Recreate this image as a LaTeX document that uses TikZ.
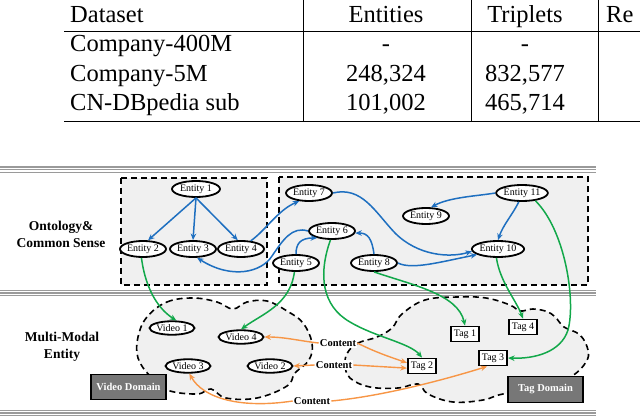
\documentclass[tikz,border=0pt]{standalone}
\usepackage{fontspec}
\setmainfont{Liberation Serif}
\usetikzlibrary{shapes.geometric,arrows.meta}
\definecolor{eblue}{HTML}{1E6FC0}
\definecolor{egreen}{HTML}{12A84A}
\definecolor{eorange}{HTML}{F79646}
\definecolor{lightbg}{HTML}{F0F0F0}
\definecolor{domgray}{HTML}{777777}
\definecolor{bandgray}{HTML}{9A9A9A}
\tikzset{
  tabtxt/.style={inner sep=0pt,font=\fontsize{24.5}{28}\selectfont},
  ent/.style={ellipse,draw=black,line width=1.8pt,fill=white,inner sep=0pt,minimum width=46pt,minimum height=16pt,font=\fontsize{10}{11}\selectfont},
  vid/.style={ellipse,draw=black,line width=1.8pt,fill=white,inner sep=0pt,minimum width=45pt,minimum height=13.5pt,font=\fontsize{10}{11}\selectfont},
  tagbox/.style={rectangle,draw=black,line width=1.8pt,fill=white,inner xsep=3pt,inner ysep=0pt,minimum height=15pt,font=\fontsize{10}{11}\selectfont},
  dombox/.style={rectangle,draw=black,line width=1.2pt,fill=domgray,text=white,minimum width=75pt,minimum height=25.5pt,inner sep=0pt,font=\bfseries\fontsize{10.5}{12}\selectfont},
  sidelab/.style={align=center,inner sep=0pt,font=\bfseries\fontsize{13.5}{17.5}\selectfont},
  contlab/.style={inner sep=1pt,fill=white,font=\bfseries\fontsize{10.5}{12}\selectfont},
  dbox/.style={draw=black,line width=1.6pt,dash pattern=on 6pt off 4pt,fill=lightbg},
  cloudline/.style={draw=black,line width=1.6pt,dash pattern=on 6pt off 4pt,fill=lightbg},
  band/.style={draw=bandgray,line width=1.3pt},
  tip/.style={-{Stealth[length=6.5pt,width=5.5pt]}},
  bl/.style={tip,draw=eblue,line width=1.5pt},
  gr/.style={tip,draw=egreen,line width=1.5pt},
  og/.style={tip,draw=eorange,line width=1.4pt}
}
\begin{document}
\begin{tikzpicture}[x=1pt,y=-1pt]
\useasboundingbox (0,0) rectangle (640,417);

% ---------------- table ----------------
\draw[line width=0.9pt] (64,31.5) -- (640,31.5);
\draw[line width=0.9pt] (64,121) -- (640,121);
\foreach \xx in {303,471,598} \draw[line width=0.8pt] (\xx,0) -- (\xx,121);
\node[tabtxt,anchor=base west] (h1) at (70,23) {Dataset};
\node[tabtxt,anchor=base] (h2) at (386,23) {Entities};
\node[tabtxt,anchor=base] (h3) at (525,23) {Triplets};
\node[tabtxt,anchor=base west] (h4) at (606,23) {Re};
\node[tabtxt,anchor=base west] (r1a) at (70,52) {Company-400M};
\node[tabtxt,anchor=base] (r1b) at (386,52) {-};
\node[tabtxt,anchor=base] (r1c) at (525,52) {-};
\node[tabtxt,anchor=base west] (r2a) at (70,81.5) {Company-5M};
\node[tabtxt,anchor=base] (r2b) at (386,81.5) {248,324};
\node[tabtxt,anchor=base] (r2c) at (525,81.5) {832,577};
\node[tabtxt,anchor=base west] (r3a) at (70,111) {CN-DBpedia sub};
\node[tabtxt,anchor=base] (r3b) at (386,111) {101,002};
\node[tabtxt,anchor=base] (r3c) at (525,111) {465,714};

% ---------------- bands ----------------
\foreach \yy in {167,169.6,172.2,290.5,293.1,295.7,410.3,412.9,415.5}
  \draw[band] (0,\yy) -- (596,\yy);

% ---------------- dashed boxes ----------------
\draw[dbox] (121,178) rectangle (267,285);
\draw[dbox] (279,177) rectangle (588,285);

% ---------------- clouds ----------------
\draw[cloudline] plot[smooth cycle,tension=0.65] coordinates {
 (147,317) (167,302) (193,298) (217,302) (233,309) (247,302) (267,301) (287,311)
 (303,323) (312,343) (309,360) (295,373) (287,386) (257,398) (226,398) (211,389)
 (197,394) (167,390) (150,376) (138,358) (138,337)};
\draw[cloudline] plot[smooth cycle,tension=0.65] coordinates {
 (348,352) (358,343) (377,337) (392,328) (402,314) (425,300) (457,297) (486,298)
 (510,305) (520,311) (533,309) (548,312) (557,319) (564,327) (580,335) (588,350)
 (586,362) (572,376) (545,388) (503,394) (483,400) (453,402) (428,394) (418,384)
 (398,388) (370,387) (350,378) (345,364)};

% ---------------- domain boxes ----------------
\node[dombox] (vd) at (128.5,387) {Video Domain};
\node[dombox] (td) at (545.5,389.5) {Tag Domain};

% ---------------- side labels ----------------
\node[sidelab] (ont) at (61,234.5) {Ontology\&\\Common Sense};
\node[sidelab] (mme) at (62,347) {Multi-Modal\\Entity};

% ---------------- entity nodes ----------------
\node[ent,minimum width=48pt] (e1) at (196,189) {Entity 1};
\node[ent] (e2) at (143,249) {Entity 2};
\node[ent] (e3) at (193,249) {Entity 3};
\node[ent] (e4) at (241,249) {Entity 4};
\node[ent] (e5) at (296,263) {Entity 5};
\node[ent] (e6) at (332,231) {Entity 6};
\node[ent] (e7) at (309,193) {Entity 7};
\node[ent] (e8) at (374,263) {Entity 8};
\node[ent] (e9) at (426,216) {Entity 9};
\node[ent] (e10) at (498,249) {Entity 10};
\node[ent] (e11) at (522,193) {Entity 11};

% ---------------- video / tag nodes ----------------
\node[vid] (v1) at (172,328) {Video 1};
\node[vid] (v4) at (241,337) {Video 4};
\node[vid] (v3) at (188,366) {Video 3};
\node[vid] (v2) at (270,366) {Video 2};
\node[tagbox] (t1) at (465,334) {Tag 1};
\node[tagbox] (t4) at (523,327) {Tag 4};
\node[tagbox] (t3) at (493,358) {Tag 3};
\node[tagbox] (t2) at (422,366) {Tag 2};

\node[contlab] (c1) at (338,343) {Content};
\node[contlab] (c2) at (334,365) {Content};
\node[contlab] (c3) at (312,401) {Content};

% ---------------- blue edges ----------------
\draw[bl] (e1.south) -- (e2.60);
\draw[bl] (e1.south) -- (e3.north);
\draw[bl] (e1.south) -- (e4.110);
\draw[bl] (e4.40) .. controls (266,230) and (278,210) .. (e7.-140);
\draw[bl] (e6.west) .. controls (292,226) and (283,240) .. (272,256)
          .. controls (262,272) and (232,280) .. (e3.-65);
\draw[bl] (e5.north) .. controls (296,244) and (300,238) .. (e6.-155);
\draw[bl] (e8.north) .. controls (372,239) and (368,233) .. (e6.-5);
\draw[bl] (e7.east) .. controls (362,186) and (375,212) .. (395,233)
          .. controls (418,256) and (450,258) .. (e10.-175);
\draw[bl] (e8.east) .. controls (412,270) and (440,262) .. (e10.-165);
\draw[bl] (e11.west) .. controls (478,196) and (450,197) .. (e9.60);
\draw[bl] (e11.-110) .. controls (513,214) and (503,225) .. (e10.north);

% ---------------- green edges ----------------
\draw[gr] (e2.-100) .. controls (146,292) and (160,310) .. (v1.60);
\draw[gr] (e5.-100) .. controls (290,305) and (262,314) .. (v4.north);
\draw[gr] (e6.-100) .. controls (318,275) and (322,306) .. (350,322)
          .. controls (375,337) and (410,343) .. (t2.north);
\draw[gr] (e8.south) .. controls (412,285) and (458,294) .. (t1.north);
\draw[gr] (e10.-100) .. controls (500,282) and (516,300) .. (t4.north);
\draw[gr] (e11.-30) .. controls (565,230) and (576,300) .. (568,330)
          .. controls (561,352) and (535,359) .. (t3.east);

% ---------------- orange edges ----------------
\draw[og] (c1.west) .. controls (300,341) and (285,337) .. (v4.east);
\draw[og] (c1.east) .. controls (375,352) and (390,357) .. (t2.168);
\draw[og] (c2.west) -- (v2.east);
\draw[og] (c2.east) -- (t2.-172);
\draw[og] (c3.west) .. controls (240,409) and (203,398) .. (v3.-80);
\draw[og] (c3.east) .. controls (385,396) and (450,378) .. (t3.-125);
\end{tikzpicture}
\end{document}
